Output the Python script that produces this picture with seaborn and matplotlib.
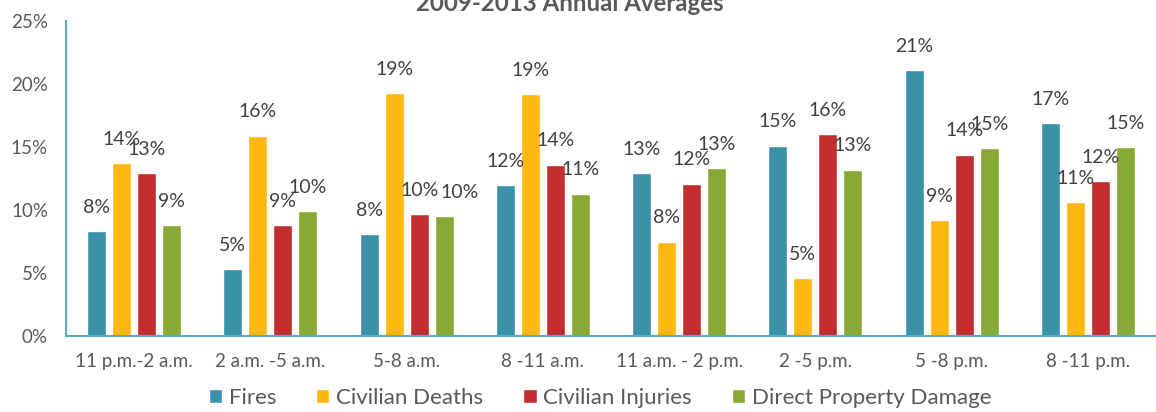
import pandas as pd
import matplotlib.pyplot as plt
import seaborn as sns

# --- Data (share of annual total, 2009-2013 averages) ---
periods = ['11 p.m.-2 a.m.', '2 a.m. -5 a.m.', '5-8 a.m.', '8 -11 a.m.',
           '11 a.m. - 2 p.m.', '2 -5 p.m.', '5 -8 p.m.', '8 -11 p.m.']
series = ['Fires', 'Civilian Deaths', 'Civilian Injuries', 'Direct Property Damage']

fires = [0.083, 0.053, 0.081, 0.120, 0.129, 0.151, 0.211, 0.169]
deaths = [0.137, 0.159, 0.193, 0.192, 0.075, 0.046, 0.092, 0.106]
injuries = [0.129, 0.088, 0.097, 0.136, 0.121, 0.160, 0.144, 0.123]
damage = [0.088, 0.099, 0.095, 0.113, 0.133, 0.132, 0.149, 0.150]

colors = ['#3A91A8', '#FFB80F', '#C42D30', '#86AA34']
axis_color = '#5AABC4'
text_color = '#595959'

rows = []
for name, vals in zip(series, [fires, deaths, injuries, damage]):
    for p, v in zip(periods, vals):
        rows.append({'period': p, 'series': name, 'share': v})
df = pd.DataFrame(rows)

sns.set_style('white')
plt.rcParams['font.family'] = ['Lato', 'DejaVu Sans']

fig = plt.figure(figsize=(11.56, 4.12), dpi=100)
ax = fig.add_axes([66 / 1156, 1 - 336 / 412, 1 - 66 / 1156, (336 - 21) / 412])

sns.barplot(data=df, x='period', y='share', hue='series', palette=colors,
            width=0.734, gap=0.24, edgecolor='white', linewidth=1,
            saturation=1, errorbar=None, ax=ax)

labels = []
for cont in ax.containers:
    labels.append(ax.bar_label(cont, fmt=lambda v: f"{v * 100:.0f}%", padding=11,
                               fontsize=14, color='#404040'))

# the property-damage label over 5-8 a.m. sits a little to the right in the original
labels[3][2].xyann = (11, 11)

ax.set_ylim(0, 0.25)
ax.set_xlim(-0.5, 7.5)
ax.set_yticks([0, 0.05, 0.10, 0.15, 0.20, 0.25])
ax.set_yticklabels(['0%', '5%', '10%', '15%', '20%', '25%'])
ax.tick_params(axis='both', length=0, labelsize=13.5, colors=text_color)
ax.tick_params(axis='x', pad=12)
ax.tick_params(axis='y', pad=13)
ax.set_xlabel('')
ax.set_ylabel('')

for side in ['top', 'right']:
    ax.spines[side].set_visible(False)
for side in ['left', 'bottom']:
    ax.spines[side].set_color(axis_color)
    ax.spines[side].set_linewidth(1.5)

ax.legend(loc='center', bbox_to_anchor=(600 / 1156, 1 - 398 / 412),
          bbox_transform=fig.transFigure, ncol=4, frameon=False,
          fontsize=16, handlelength=0.6, handleheight=0.6,
          handletextpad=0.3, columnspacing=1.8, labelcolor=text_color)

fig.text(570 / 1156, 1 - 11 / 412, '2009-2013 Annual Averages',
         ha='center', va='baseline', fontsize=17.3, fontweight='bold',
         color=text_color)

fig.savefig('out.png', dpi=100)
